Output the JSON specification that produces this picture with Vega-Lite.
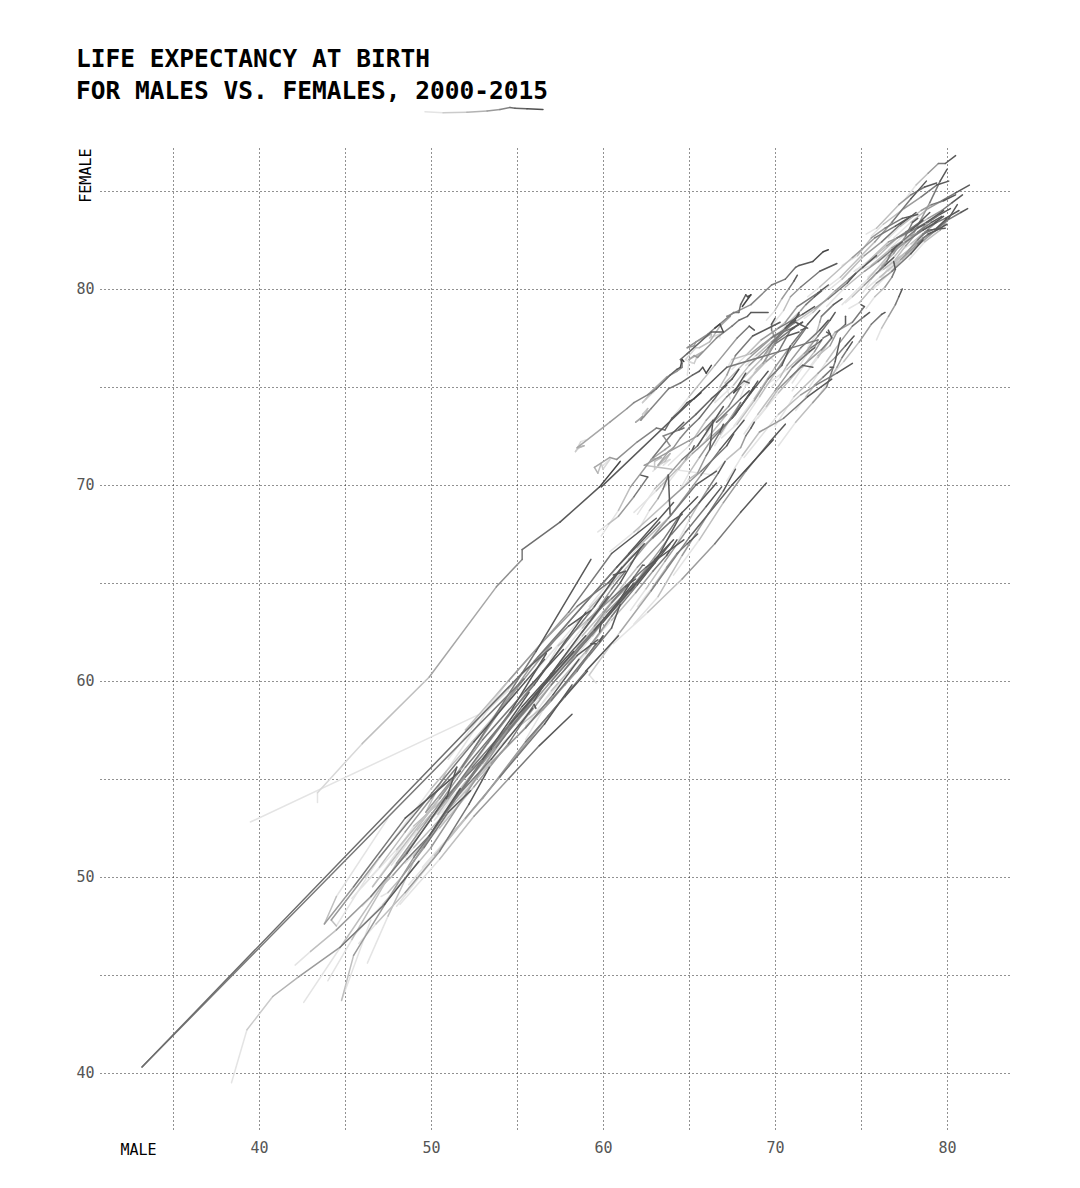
{
"$schema":"https://vega.github.io/schema/vega-lite/v6.json",
"width":910,"height":982,
"autosize":{"type":"none"},
"padding":{"left":100,"top":148,"right":70,"bottom":58},
"background":"white",
"title":{"text":["LIFE EXPECTANCY AT BIRTH","FOR MALES VS. FEMALES, 2000-2015"],"anchor":"start","frame":"group","dx":-24,"offset":2,"font":"DejaVu Sans Mono","fontSize":24.5,"fontWeight":"bold","lineHeight":32,"color":"#000"},
"config":{"view":{"stroke":null},"font":"DejaVu Sans Mono"},
"datasets":{
"key":[
{"c":"key","t":2000,"m":49.65,"f":89.04},{"c":"key","t":2002,"m":50.7,"f":88.99},{"c":"key","t":2004,"m":52.09,"f":89.01},{"c":"key","t":2006,"m":53.26,"f":89.08},{"c":"key","t":2008,"m":54.01,"f":89.15},{"c":"key","t":2010,"m":54.59,"f":89.26},{"c":"key","t":2011,"m":54.88,"f":89.22},{"c":"key","t":2013,"m":55.58,"f":89.19},{"c":"key","t":2015,"m":56.51,"f":89.16}
],
"le":[
{"c":"JPN","t":2000,"m":77.5,"f":84.5},{"c":"JPN","t":2003,"m":78.2,"f":85.3},{"c":"JPN","t":2006,"m":78.9,"f":85.9},{"c":"JPN","t":2009,"m":79.5,"f":86.4},{"c":"JPN","t":2012,"m":79.9,"f":86.4},{"c":"JPN","t":2015,"m":80.5,"f":86.8},
{"c":"CHE","t":2000,"m":76.9,"f":82.6},{"c":"CHE","t":2003,"m":77.9,"f":83.4},{"c":"CHE","t":2006,"m":78.9,"f":84.1},{"c":"CHE","t":2009,"m":79.7,"f":84.5},{"c":"CHE","t":2012,"m":80.5,"f":84.9},{"c":"CHE","t":2015,"m":81.3,"f":85.3},
{"c":"AUS","t":2000,"m":76.6,"f":82.0},{"c":"AUS","t":2003,"m":77.8,"f":83.0},{"c":"AUS","t":2006,"m":78.9,"f":83.6},{"c":"AUS","t":2009,"m":79.7,"f":84.0},{"c":"AUS","t":2012,"m":80.3,"f":84.4},{"c":"AUS","t":2015,"m":80.9,"f":84.8},
{"c":"ISL","t":2000,"m":77.8,"f":81.5},{"c":"ISL","t":2003,"m":78.7,"f":82.4},{"c":"ISL","t":2006,"m":79.6,"f":83.0},{"c":"ISL","t":2009,"m":80.0,"f":83.5},{"c":"ISL","t":2012,"m":80.8,"f":83.9},{"c":"ISL","t":2015,"m":81.2,"f":84.1},
{"c":"SWE","t":2000,"m":77.4,"f":82.0},{"c":"SWE","t":2003,"m":77.9,"f":82.3},{"c":"SWE","t":2006,"m":78.7,"f":82.9},{"c":"SWE","t":2009,"m":79.4,"f":83.4},{"c":"SWE","t":2012,"m":79.9,"f":83.6},{"c":"SWE","t":2015,"m":80.7,"f":84.0},
{"c":"ITA","t":2000,"m":76.6,"f":82.6},{"c":"ITA","t":2003,"m":77.3,"f":83.2},{"c":"ITA","t":2006,"m":78.5,"f":84.0},{"c":"ITA","t":2009,"m":79.1,"f":84.3},{"c":"ITA","t":2012,"m":79.8,"f":84.5},{"c":"ITA","t":2015,"m":80.5,"f":84.8},
{"c":"ESP","t":2000,"m":75.6,"f":82.7},{"c":"ESP","t":2003,"m":76.3,"f":83.3},{"c":"ESP","t":2006,"m":77.5,"f":84.1},{"c":"ESP","t":2009,"m":78.5,"f":84.7},{"c":"ESP","t":2012,"m":79.4,"f":85.3},{"c":"ESP","t":2015,"m":80.1,"f":85.5},
{"c":"FRA","t":2000,"m":75.3,"f":82.8},{"c":"FRA","t":2003,"m":75.9,"f":83.1},{"c":"FRA","t":2006,"m":77.2,"f":84.3},{"c":"FRA","t":2009,"m":77.9,"f":84.8},{"c":"FRA","t":2012,"m":78.7,"f":85.2},{"c":"FRA","t":2015,"m":79.4,"f":85.4},
{"c":"SGP","t":2000,"m":76.0,"f":80.2},{"c":"SGP","t":2003,"m":76.9,"f":81.6},{"c":"SGP","t":2006,"m":78.1,"f":82.9},{"c":"SGP","t":2009,"m":79.0,"f":84.4},{"c":"SGP","t":2012,"m":79.6,"f":85.5},{"c":"SGP","t":2015,"m":80.0,"f":86.1},
{"c":"KOR","t":2000,"m":72.3,"f":79.6},{"c":"KOR","t":2003,"m":73.8,"f":80.6},{"c":"KOR","t":2006,"m":75.8,"f":82.4},{"c":"KOR","t":2009,"m":76.8,"f":83.4},{"c":"KOR","t":2012,"m":77.9,"f":84.6},{"c":"KOR","t":2015,"m":78.8,"f":85.5},
{"c":"CAN","t":2000,"m":76.6,"f":81.9},{"c":"CAN","t":2003,"m":77.4,"f":82.3},{"c":"CAN","t":2006,"m":78.2,"f":82.8},{"c":"CAN","t":2009,"m":78.9,"f":83.4},{"c":"CAN","t":2012,"m":79.6,"f":83.8},{"c":"CAN","t":2015,"m":80.2,"f":84.1},
{"c":"NOR","t":2000,"m":76.0,"f":81.4},{"c":"NOR","t":2003,"m":77.0,"f":82.0},{"c":"NOR","t":2006,"m":77.9,"f":82.7},{"c":"NOR","t":2009,"m":78.6,"f":83.0},{"c":"NOR","t":2012,"m":79.3,"f":83.4},{"c":"NOR","t":2015,"m":79.8,"f":83.7},
{"c":"GBR","t":2000,"m":75.3,"f":80.0},{"c":"GBR","t":2003,"m":76.1,"f":80.6},{"c":"GBR","t":2006,"m":77.3,"f":81.5},{"c":"GBR","t":2009,"m":78.3,"f":82.3},{"c":"GBR","t":2012,"m":78.9,"f":82.8},{"c":"GBR","t":2015,"m":79.4,"f":83.0},
{"c":"DEU","t":2000,"m":75.0,"f":81.0},{"c":"DEU","t":2003,"m":75.6,"f":81.2},{"c":"DEU","t":2006,"m":76.8,"f":82.1},{"c":"DEU","t":2009,"m":77.5,"f":82.5},{"c":"DEU","t":2012,"m":78.3,"f":83.1},{"c":"DEU","t":2015,"m":78.7,"f":83.3},
{"c":"NLD","t":2000,"m":75.6,"f":80.7},{"c":"NLD","t":2003,"m":76.3,"f":81.0},{"c":"NLD","t":2006,"m":77.8,"f":82.0},{"c":"NLD","t":2009,"m":78.6,"f":82.8},{"c":"NLD","t":2012,"m":79.4,"f":83.1},{"c":"NLD","t":2015,"m":80.0,"f":83.6},
{"c":"AUT","t":2000,"m":75.2,"f":81.2},{"c":"AUT","t":2003,"m":75.9,"f":81.6},{"c":"AUT","t":2006,"m":77.1,"f":82.6},{"c":"AUT","t":2009,"m":77.6,"f":82.9},{"c":"AUT","t":2012,"m":78.4,"f":83.4},{"c":"AUT","t":2015,"m":79.0,"f":83.9},
{"c":"FIN","t":2000,"m":73.9,"f":81.2},{"c":"FIN","t":2003,"m":74.8,"f":81.7},{"c":"FIN","t":2006,"m":75.6,"f":82.6},{"c":"FIN","t":2009,"m":76.4,"f":83.1},{"c":"FIN","t":2012,"m":77.4,"f":83.6},{"c":"FIN","t":2015,"m":78.3,"f":83.8},
{"c":"ISR","t":2000,"m":76.6,"f":80.9},{"c":"ISR","t":2003,"m":77.4,"f":81.5},{"c":"ISR","t":2006,"m":78.4,"f":82.3},{"c":"ISR","t":2009,"m":79.5,"f":83.1},{"c":"ISR","t":2012,"m":80.1,"f":83.6},{"c":"ISR","t":2015,"m":80.6,"f":84.3},
{"c":"NZL","t":2000,"m":75.9,"f":80.8},{"c":"NZL","t":2003,"m":76.9,"f":81.3},{"c":"NZL","t":2006,"m":77.9,"f":82.1},{"c":"NZL","t":2009,"m":78.6,"f":82.6},{"c":"NZL","t":2012,"m":79.4,"f":83.0},{"c":"NZL","t":2015,"m":80.0,"f":83.3},
{"c":"IRL","t":2000,"m":73.9,"f":79.2},{"c":"IRL","t":2003,"m":75.4,"f":80.5},{"c":"IRL","t":2006,"m":76.6,"f":81.7},{"c":"IRL","t":2009,"m":77.6,"f":82.4},{"c":"IRL","t":2012,"m":78.6,"f":83.0},{"c":"IRL","t":2015,"m":79.4,"f":83.4},
{"c":"GRC","t":2000,"m":75.4,"f":80.6},{"c":"GRC","t":2003,"m":76.2,"f":81.2},{"c":"GRC","t":2006,"m":76.9,"f":81.8},{"c":"GRC","t":2009,"m":77.6,"f":82.7},{"c":"GRC","t":2012,"m":78.0,"f":83.4},{"c":"GRC","t":2015,"m":78.3,"f":83.6},
{"c":"PRT","t":2000,"m":73.2,"f":80.0},{"c":"PRT","t":2003,"m":73.9,"f":80.5},{"c":"PRT","t":2006,"m":75.2,"f":81.7},{"c":"PRT","t":2009,"m":76.2,"f":82.4},{"c":"PRT","t":2012,"m":77.3,"f":83.3},{"c":"PRT","t":2015,"m":78.2,"f":83.9},
{"c":"BEL","t":2000,"m":74.6,"f":80.9},{"c":"BEL","t":2003,"m":75.3,"f":81.3},{"c":"BEL","t":2006,"m":76.5,"f":82.2},{"c":"BEL","t":2009,"m":77.1,"f":82.6},{"c":"BEL","t":2012,"m":77.9,"f":83.0},{"c":"BEL","t":2015,"m":78.6,"f":83.5},
{"c":"DNK","t":2000,"m":74.3,"f":79.0},{"c":"DNK","t":2003,"m":74.9,"f":79.3},{"c":"DNK","t":2006,"m":75.9,"f":80.3},{"c":"DNK","t":2009,"m":76.8,"f":80.9},{"c":"DNK","t":2012,"m":77.9,"f":81.8},{"c":"DNK","t":2015,"m":78.6,"f":82.5},
{"c":"USA","t":2000,"m":74.1,"f":79.3},{"c":"USA","t":2003,"m":74.5,"f":79.6},{"c":"USA","t":2006,"m":75.2,"f":80.2},{"c":"USA","t":2009,"m":75.9,"f":80.8},{"c":"USA","t":2012,"m":76.4,"f":81.2},{"c":"USA","t":2015,"m":76.9,"f":81.6},
{"c":"CHL","t":2000,"m":73.0,"f":79.1},{"c":"CHL","t":2003,"m":74.1,"f":80.1},{"c":"CHL","t":2006,"m":75.2,"f":80.9},{"c":"CHL","t":2009,"m":76.0,"f":81.4},{"c":"CHL","t":2012,"m":76.8,"f":82.0},{"c":"CHL","t":2015,"m":77.4,"f":82.4},
{"c":"CRI","t":2000,"m":75.1,"f":79.8},{"c":"CRI","t":2003,"m":75.6,"f":80.5},{"c":"CRI","t":2006,"m":76.1,"f":81.0},{"c":"CRI","t":2009,"m":76.5,"f":81.4},{"c":"CRI","t":2012,"m":76.8,"f":81.9},{"c":"CRI","t":2015,"m":77.1,"f":82.2},
{"c":"CUB","t":2000,"m":75.3,"f":79.0},{"c":"CUB","t":2003,"m":75.8,"f":79.6},{"c":"CUB","t":2006,"m":76.4,"f":80.1},{"c":"CUB","t":2009,"m":76.8,"f":80.6},{"c":"CUB","t":2012,"m":77.0,"f":81.0},{"c":"CUB","t":2015,"m":76.9,"f":81.4},
{"c":"SVN","t":2000,"m":71.9,"f":79.6},{"c":"SVN","t":2003,"m":72.6,"f":80.1},{"c":"SVN","t":2006,"m":74.5,"f":81.6},{"c":"SVN","t":2009,"m":75.8,"f":82.6},{"c":"SVN","t":2012,"m":77.0,"f":83.2},{"c":"SVN","t":2015,"m":77.9,"f":83.7},
{"c":"CZE","t":2000,"m":71.7,"f":78.5},{"c":"CZE","t":2003,"m":72.2,"f":78.8},{"c":"CZE","t":2006,"m":73.5,"f":79.9},{"c":"CZE","t":2009,"m":74.3,"f":80.5},{"c":"CZE","t":2012,"m":75.1,"f":81.1},{"c":"CZE","t":2015,"m":75.9,"f":81.7},
{"c":"LUX","t":2000,"m":74.6,"f":80.9},{"c":"LUX","t":2003,"m":75.4,"f":81.4},{"c":"LUX","t":2006,"m":76.6,"f":82.4},{"c":"LUX","t":2009,"m":77.6,"f":82.8},{"c":"LUX","t":2012,"m":78.8,"f":83.4},{"c":"LUX","t":2015,"m":79.8,"f":84.0},
{"c":"MLT","t":2000,"m":76.2,"f":80.6},{"c":"MLT","t":2003,"m":77.0,"f":81.5},{"c":"MLT","t":2006,"m":77.6,"f":82.2},{"c":"MLT","t":2009,"m":78.3,"f":82.9},{"c":"MLT","t":2012,"m":79.1,"f":83.4},{"c":"MLT","t":2015,"m":79.7,"f":83.7},
{"c":"CYP","t":2000,"m":75.7,"f":80.0},{"c":"CYP","t":2003,"m":76.8,"f":80.9},{"c":"CYP","t":2006,"m":77.6,"f":81.8},{"c":"CYP","t":2009,"m":78.3,"f":82.5},{"c":"CYP","t":2012,"m":78.9,"f":83.0},{"c":"CYP","t":2015,"m":79.9,"f":83.1},
{"c":"QAT","t":2000,"m":75.9,"f":77.4},{"c":"QAT","t":2003,"m":76.2,"f":78.0},{"c":"QAT","t":2006,"m":76.6,"f":78.6},{"c":"QAT","t":2009,"m":77.0,"f":79.2},{"c":"QAT","t":2012,"m":77.2,"f":79.6},{"c":"QAT","t":2015,"m":77.4,"f":80.0},
{"c":"ARE","t":2000,"m":73.3,"f":75.6},{"c":"ARE","t":2003,"m":74.0,"f":76.3},{"c":"ARE","t":2006,"m":74.9,"f":77.3},{"c":"ARE","t":2009,"m":75.6,"f":78.2},{"c":"ARE","t":2012,"m":76.2,"f":78.7},{"c":"ARE","t":2015,"m":76.4,"f":78.8},
{"c":"KWT","t":2000,"m":72.5,"f":74.5},{"c":"KWT","t":2003,"m":73.2,"f":75.4},{"c":"KWT","t":2006,"m":73.6,"f":76.0},{"c":"KWT","t":2009,"m":73.9,"f":76.5},{"c":"KWT","t":2012,"m":74.2,"f":76.9},{"c":"KWT","t":2015,"m":74.5,"f":77.3},
{"c":"LBN","t":2000,"m":72.0,"f":75.0},{"c":"LBN","t":2003,"m":73.0,"f":76.3},{"c":"LBN","t":2006,"m":73.8,"f":77.3},{"c":"LBN","t":2009,"m":74.5,"f":78.1},{"c":"LBN","t":2012,"m":75.2,"f":78.6},{"c":"LBN","t":2015,"m":75.5,"f":78.8},
{"c":"HRV","t":2000,"m":69.9,"f":77.6},{"c":"HRV","t":2003,"m":71.0,"f":78.2},{"c":"HRV","t":2006,"m":72.3,"f":79.0},{"c":"HRV","t":2009,"m":73.1,"f":79.5},{"c":"HRV","t":2012,"m":74.2,"f":80.3},{"c":"HRV","t":2015,"m":74.7,"f":80.8},
{"c":"SVK","t":2000,"m":69.2,"f":77.4},{"c":"SVK","t":2003,"m":69.9,"f":77.8},{"c":"SVK","t":2006,"m":70.6,"f":78.3},{"c":"SVK","t":2009,"m":71.3,"f":79.1},{"c":"SVK","t":2012,"m":72.5,"f":79.8},{"c":"SVK","t":2015,"m":73.1,"f":80.2},
{"c":"POL","t":2000,"m":69.7,"f":78.0},{"c":"POL","t":2003,"m":70.5,"f":78.9},{"c":"POL","t":2006,"m":70.9,"f":79.6},{"c":"POL","t":2009,"m":71.5,"f":80.1},{"c":"POL","t":2012,"m":72.6,"f":80.9},{"c":"POL","t":2015,"m":73.6,"f":81.3},
{"c":"HUN","t":2000,"m":67.5,"f":75.9},{"c":"HUN","t":2003,"m":68.3,"f":76.6},{"c":"HUN","t":2006,"m":69.2,"f":77.4},{"c":"HUN","t":2009,"m":70.2,"f":78.0},{"c":"HUN","t":2012,"m":71.6,"f":78.7},{"c":"HUN","t":2015,"m":72.3,"f":79.1},
{"c":"EST","t":2000,"m":65.2,"f":76.2},{"c":"EST","t":2003,"m":65.6,"f":77.0},{"c":"EST","t":2006,"m":67.4,"f":78.6},{"c":"EST","t":2009,"m":69.8,"f":80.2},{"c":"EST","t":2012,"m":71.4,"f":81.2},{"c":"EST","t":2015,"m":73.1,"f":82.0},
{"c":"LVA","t":2000,"m":64.9,"f":75.6},{"c":"LVA","t":2003,"m":65.5,"f":76.6},{"c":"LVA","t":2006,"m":65.3,"f":76.6},{"c":"LVA","t":2009,"m":67.5,"f":78.1},{"c":"LVA","t":2012,"m":68.6,"f":78.8},{"c":"LVA","t":2015,"m":69.6,"f":78.8},
{"c":"LTU","t":2000,"m":66.8,"f":77.5},{"c":"LTU","t":2003,"m":66.3,"f":77.6},{"c":"LTU","t":2006,"m":65.3,"f":77.1},{"c":"LTU","t":2009,"m":67.6,"f":78.8},{"c":"LTU","t":2012,"m":68.3,"f":79.7},{"c":"LTU","t":2015,"m":68.1,"f":79.1},
{"c":"RUS","t":2000,"m":59.0,"f":72.3},{"c":"RUS","t":2003,"m":58.6,"f":71.9},{"c":"RUS","t":2006,"m":60.4,"f":73.2},{"c":"RUS","t":2009,"m":62.8,"f":74.7},{"c":"RUS","t":2012,"m":64.3,"f":75.9},{"c":"RUS","t":2015,"m":64.7,"f":76.3},
{"c":"UKR","t":2000,"m":62.2,"f":73.4},{"c":"UKR","t":2003,"m":62.6,"f":73.9},{"c":"UKR","t":2006,"m":62.3,"f":73.5},{"c":"UKR","t":2009,"m":63.8,"f":74.9},{"c":"UKR","t":2012,"m":65.6,"f":75.8},{"c":"UKR","t":2015,"m":66.3,"f":76.1},
{"c":"BLR","t":2000,"m":62.9,"f":74.7},{"c":"BLR","t":2003,"m":62.5,"f":74.4},{"c":"BLR","t":2006,"m":63.7,"f":75.5},{"c":"BLR","t":2009,"m":64.6,"f":76.2},{"c":"BLR","t":2012,"m":66.3,"f":77.8},{"c":"BLR","t":2015,"m":66.5,"f":78.0},
{"c":"KAZ","t":2000,"m":60.0,"f":71.0},{"c":"KAZ","t":2003,"m":59.9,"f":71.1},{"c":"KAZ","t":2006,"m":60.4,"f":71.4},{"c":"KAZ","t":2009,"m":63.1,"f":72.9},{"c":"KAZ","t":2012,"m":64.5,"f":73.8},{"c":"KAZ","t":2015,"m":65.7,"f":74.7},
{"c":"MDA","t":2000,"m":63.5,"f":71.0},{"c":"MDA","t":2003,"m":63.6,"f":71.2},{"c":"MDA","t":2006,"m":63.8,"f":71.7},{"c":"MDA","t":2009,"m":65.0,"f":72.9},{"c":"MDA","t":2012,"m":67.0,"f":75.0},{"c":"MDA","t":2015,"m":67.9,"f":75.9},
{"c":"ARM","t":2000,"m":68.0,"f":74.5},{"c":"ARM","t":2003,"m":68.4,"f":75.3},{"c":"ARM","t":2006,"m":69.5,"f":76.3},{"c":"ARM","t":2009,"m":70.2,"f":76.8},{"c":"ARM","t":2012,"m":70.9,"f":77.9},{"c":"ARM","t":2015,"m":71.6,"f":78.3},
{"c":"KGZ","t":2000,"m":62.9,"f":70.7},{"c":"KGZ","t":2003,"m":63.0,"f":71.2},{"c":"KGZ","t":2006,"m":63.6,"f":71.8},{"c":"KGZ","t":2009,"m":64.7,"f":72.9},{"c":"KGZ","t":2012,"m":66.3,"f":74.4},{"c":"KGZ","t":2015,"m":67.2,"f":75.1},
{"c":"MNG","t":2000,"m":59.9,"f":67.4},{"c":"MNG","t":2003,"m":60.9,"f":68.7},{"c":"MNG","t":2006,"m":61.6,"f":69.9},{"c":"MNG","t":2009,"m":62.9,"f":71.4},{"c":"MNG","t":2012,"m":64.0,"f":72.6},{"c":"MNG","t":2015,"m":64.7,"f":73.2},
{"c":"CHN","t":2000,"m":70.0,"f":73.0},{"c":"CHN","t":2003,"m":71.1,"f":74.5},{"c":"CHN","t":2006,"m":72.5,"f":75.7},{"c":"CHN","t":2009,"m":73.5,"f":76.5},{"c":"CHN","t":2012,"m":74.1,"f":77.1},{"c":"CHN","t":2015,"m":74.6,"f":77.6},
{"c":"MEX","t":2000,"m":71.9,"f":77.0},{"c":"MEX","t":2003,"m":72.4,"f":77.7},{"c":"MEX","t":2006,"m":72.6,"f":78.3},{"c":"MEX","t":2009,"m":72.7,"f":78.6},{"c":"MEX","t":2012,"m":73.4,"f":79.2},{"c":"MEX","t":2015,"m":73.9,"f":79.5},
{"c":"BRA","t":2000,"m":66.5,"f":74.2},{"c":"BRA","t":2003,"m":67.6,"f":75.1},{"c":"BRA","t":2006,"m":68.5,"f":76.1},{"c":"BRA","t":2009,"m":69.6,"f":77.0},{"c":"BRA","t":2012,"m":70.6,"f":78.0},{"c":"BRA","t":2015,"m":71.4,"f":78.7},
{"c":"ARG","t":2000,"m":70.2,"f":77.7},{"c":"ARG","t":2003,"m":70.8,"f":78.3},{"c":"ARG","t":2006,"m":71.5,"f":78.9},{"c":"ARG","t":2009,"m":71.8,"f":79.2},{"c":"ARG","t":2012,"m":72.3,"f":79.6},{"c":"ARG","t":2015,"m":72.7,"f":79.9},
{"c":"COL","t":2000,"m":68.3,"f":76.1},{"c":"COL","t":2003,"m":68.9,"f":76.6},{"c":"COL","t":2006,"m":69.8,"f":77.3},{"c":"COL","t":2009,"m":70.3,"f":77.7},{"c":"COL","t":2012,"m":70.7,"f":78.1},{"c":"COL","t":2015,"m":71.2,"f":78.4},
{"c":"THA","t":2000,"m":67.4,"f":74.4},{"c":"THA","t":2003,"m":67.1,"f":75.2},{"c":"THA","t":2006,"m":68.4,"f":76.4},{"c":"THA","t":2009,"m":69.8,"f":77.5},{"c":"THA","t":2012,"m":71.2,"f":78.3},{"c":"THA","t":2015,"m":71.9,"f":78.0},
{"c":"VNM","t":2000,"m":69.5,"f":78.4},{"c":"VNM","t":2003,"m":70.0,"f":78.9},{"c":"VNM","t":2006,"m":70.4,"f":79.5},{"c":"VNM","t":2009,"m":70.8,"f":80.0},{"c":"VNM","t":2012,"m":71.1,"f":80.4},{"c":"VNM","t":2015,"m":71.3,"f":80.7},
{"c":"LKA","t":2000,"m":67.3,"f":76.1},{"c":"LKA","t":2003,"m":67.5,"f":76.4},{"c":"LKA","t":2006,"m":68.6,"f":76.7},{"c":"LKA","t":2009,"m":69.9,"f":77.6},{"c":"LKA","t":2012,"m":71.0,"f":78.0},{"c":"LKA","t":2015,"m":71.6,"f":78.3},
{"c":"TUR","t":2000,"m":67.6,"f":73.0},{"c":"TUR","t":2003,"m":68.8,"f":74.4},{"c":"TUR","t":2006,"m":70.0,"f":76.0},{"c":"TUR","t":2009,"m":71.0,"f":77.2},{"c":"TUR","t":2012,"m":71.9,"f":78.2},{"c":"TUR","t":2015,"m":72.6,"f":78.9},
{"c":"IRN","t":2000,"m":68.2,"f":71.4},{"c":"IRN","t":2003,"m":70.2,"f":73.6},{"c":"IRN","t":2006,"m":71.5,"f":74.6},{"c":"IRN","t":2009,"m":72.4,"f":75.1},{"c":"IRN","t":2012,"m":73.6,"f":75.7},{"c":"IRN","t":2015,"m":74.5,"f":76.2},
{"c":"MYS","t":2000,"m":70.7,"f":75.7},{"c":"MYS","t":2003,"m":71.2,"f":76.2},{"c":"MYS","t":2006,"m":71.7,"f":76.7},{"c":"MYS","t":2009,"m":72.1,"f":77.0},{"c":"MYS","t":2012,"m":72.6,"f":77.3},{"c":"MYS","t":2015,"m":72.7,"f":77.4},
{"c":"PER","t":2000,"m":69.0,"f":73.4},{"c":"PER","t":2003,"m":70.2,"f":74.7},{"c":"PER","t":2006,"m":71.5,"f":76.0},{"c":"PER","t":2009,"m":72.7,"f":76.9},{"c":"PER","t":2012,"m":73.3,"f":77.5},{"c":"PER","t":2015,"m":73.1,"f":77.9},
{"c":"ECU","t":2000,"m":69.5,"f":75.1},{"c":"ECU","t":2003,"m":70.7,"f":75.9},{"c":"ECU","t":2006,"m":71.8,"f":76.8},{"c":"ECU","t":2009,"m":72.5,"f":77.6},{"c":"ECU","t":2012,"m":73.2,"f":78.4},{"c":"ECU","t":2015,"m":73.5,"f":78.8},
{"c":"ROU","t":2000,"m":67.8,"f":74.9},{"c":"ROU","t":2003,"m":68.2,"f":75.5},{"c":"ROU","t":2006,"m":69.2,"f":76.4},{"c":"ROU","t":2009,"m":69.9,"f":77.3},{"c":"ROU","t":2012,"m":71.1,"f":78.3},{"c":"ROU","t":2015,"m":71.4,"f":78.8},
{"c":"BGR","t":2000,"m":68.4,"f":75.1},{"c":"BGR","t":2003,"m":68.9,"f":75.9},{"c":"BGR","t":2006,"m":69.4,"f":76.3},{"c":"BGR","t":2009,"m":70.0,"f":77.3},{"c":"BGR","t":2012,"m":70.9,"f":77.9},{"c":"BGR","t":2015,"m":71.1,"f":78.0},
{"c":"SRB","t":2000,"m":69.8,"f":75.0},{"c":"SRB","t":2003,"m":70.3,"f":75.5},{"c":"SRB","t":2006,"m":70.7,"f":76.1},{"c":"SRB","t":2009,"m":71.5,"f":77.0},{"c":"SRB","t":2012,"m":72.6,"f":77.9},{"c":"SRB","t":2015,"m":73.1,"f":78.4},
{"c":"TUN","t":2000,"m":71.0,"f":75.2},{"c":"TUN","t":2003,"m":71.6,"f":76.0},{"c":"TUN","t":2006,"m":72.3,"f":76.8},{"c":"TUN","t":2009,"m":72.8,"f":77.5},{"c":"TUN","t":2012,"m":73.2,"f":77.7},{"c":"TUN","t":2015,"m":73.0,"f":77.8},
{"c":"DZA","t":2000,"m":70.2,"f":72.0},{"c":"DZA","t":2003,"m":71.2,"f":73.2},{"c":"DZA","t":2006,"m":72.2,"f":74.2},{"c":"DZA","t":2009,"m":73.0,"f":75.0},{"c":"DZA","t":2012,"m":73.5,"f":76.3},{"c":"DZA","t":2015,"m":73.8,"f":77.5},
{"c":"MAR","t":2000,"m":67.2,"f":70.2},{"c":"MAR","t":2003,"m":68.1,"f":71.5},{"c":"MAR","t":2006,"m":69.1,"f":72.7},{"c":"MAR","t":2009,"m":70.5,"f":73.4},{"c":"MAR","t":2012,"m":71.9,"f":74.5},{"c":"MAR","t":2015,"m":73.3,"f":75.4},
{"c":"EGY","t":2000,"m":66.3,"f":70.5},{"c":"EGY","t":2003,"m":67.2,"f":71.3},{"c":"EGY","t":2006,"m":68.0,"f":71.9},{"c":"EGY","t":2009,"m":68.3,"f":72.5},{"c":"EGY","t":2012,"m":68.6,"f":72.9},{"c":"EGY","t":2015,"m":68.8,"f":73.2},
{"c":"IDN","t":2000,"m":64.4,"f":67.2},{"c":"IDN","t":2003,"m":65.0,"f":68.2},{"c":"IDN","t":2006,"m":65.6,"f":69.1},{"c":"IDN","t":2009,"m":66.1,"f":69.8},{"c":"IDN","t":2012,"m":66.7,"f":70.6},{"c":"IDN","t":2015,"m":67.1,"f":71.2},
{"c":"PHL","t":2000,"m":63.6,"f":69.9},{"c":"PHL","t":2003,"m":64.4,"f":70.8},{"c":"PHL","t":2006,"m":64.8,"f":71.3},{"c":"PHL","t":2009,"m":65.0,"f":71.6},{"c":"PHL","t":2012,"m":65.2,"f":71.8},{"c":"PHL","t":2015,"m":65.3,"f":72.0},
{"c":"BGD","t":2000,"m":64.1,"f":65.4},{"c":"BGD","t":2003,"m":65.6,"f":67.2},{"c":"BGD","t":2006,"m":67.0,"f":69.1},{"c":"BGD","t":2009,"m":68.3,"f":70.7},{"c":"BGD","t":2012,"m":69.7,"f":72.2},{"c":"BGD","t":2015,"m":70.6,"f":73.1},
{"c":"IND","t":2000,"m":61.6,"f":63.6},{"c":"IND","t":2003,"m":62.5,"f":64.7},{"c":"IND","t":2006,"m":63.6,"f":66.1},{"c":"IND","t":2009,"m":64.8,"f":67.6},{"c":"IND","t":2012,"m":66.0,"f":68.9},{"c":"IND","t":2015,"m":66.9,"f":69.9},
{"c":"PAK","t":2000,"m":62.0,"f":63.8},{"c":"PAK","t":2003,"m":62.9,"f":64.8},{"c":"PAK","t":2006,"m":63.7,"f":65.8},{"c":"PAK","t":2009,"m":64.3,"f":66.5},{"c":"PAK","t":2012,"m":64.9,"f":67.0},{"c":"PAK","t":2015,"m":65.5,"f":67.5},
{"c":"NPL","t":2000,"m":61.8,"f":62.9},{"c":"NPL","t":2003,"m":63.2,"f":64.3},{"c":"NPL","t":2006,"m":64.6,"f":66.4},{"c":"NPL","t":2009,"m":66.1,"f":68.5},{"c":"NPL","t":2012,"m":67.0,"f":69.7},{"c":"NPL","t":2015,"m":67.7,"f":70.8},
{"c":"MMR","t":2000,"m":59.2,"f":63.8},{"c":"MMR","t":2003,"m":60.3,"f":65.0},{"c":"MMR","t":2006,"m":61.5,"f":66.2},{"c":"MMR","t":2009,"m":62.9,"f":67.3},{"c":"MMR","t":2012,"m":63.9,"f":68.1},{"c":"MMR","t":2015,"m":64.6,"f":68.5},
{"c":"KHM","t":2000,"m":56.0,"f":60.4},{"c":"KHM","t":2003,"m":58.5,"f":63.0},{"c":"KHM","t":2006,"m":61.6,"f":66.0},{"c":"KHM","t":2009,"m":63.8,"f":68.3},{"c":"KHM","t":2012,"m":65.4,"f":70.0},{"c":"KHM","t":2015,"m":66.6,"f":70.7},
{"c":"LAO","t":2000,"m":58.2,"f":61.0},{"c":"LAO","t":2003,"m":59.4,"f":62.3},{"c":"LAO","t":2006,"m":60.5,"f":63.6},{"c":"LAO","t":2009,"m":61.8,"f":64.9},{"c":"LAO","t":2012,"m":63.0,"f":66.2},{"c":"LAO","t":2015,"m":64.1,"f":67.2},
{"c":"GTM","t":2000,"m":63.8,"f":71.0},{"c":"GTM","t":2003,"m":65.0,"f":72.0},{"c":"GTM","t":2006,"m":66.0,"f":73.3},{"c":"GTM","t":2009,"m":67.2,"f":74.5},{"c":"GTM","t":2012,"m":68.2,"f":75.3},{"c":"GTM","t":2015,"m":68.5,"f":75.2},
{"c":"BOL","t":2000,"m":60.0,"f":64.4},{"c":"BOL","t":2003,"m":62.0,"f":66.8},{"c":"BOL","t":2006,"m":63.9,"f":68.4},{"c":"BOL","t":2009,"m":65.7,"f":70.5},{"c":"BOL","t":2012,"m":66.8,"f":71.8},{"c":"BOL","t":2015,"m":68.2,"f":73.3},
{"c":"IRQ","t":2000,"m":66.5,"f":70.5},{"c":"IRQ","t":2003,"m":64.0,"f":70.8},{"c":"IRQ","t":2006,"m":62.4,"f":71.0},{"c":"IRQ","t":2009,"m":65.5,"f":72.5},{"c":"IRQ","t":2012,"m":66.4,"f":73.3},{"c":"IRQ","t":2015,"m":66.2,"f":71.8},
{"c":"SYR","t":2000,"m":71.3,"f":75.9},{"c":"SYR","t":2003,"m":71.8,"f":76.6},{"c":"SYR","t":2006,"m":72.3,"f":77.0},{"c":"SYR","t":2009,"m":72.5,"f":77.4},{"c":"SYR","t":2012,"m":67.2,"f":76.0},{"c":"SYR","t":2015,"m":59.9,"f":69.9},
{"c":"YEM","t":2000,"m":59.0,"f":61.6},{"c":"YEM","t":2003,"m":60.5,"f":63.1},{"c":"YEM","t":2006,"m":61.9,"f":64.5},{"c":"YEM","t":2009,"m":62.9,"f":65.6},{"c":"YEM","t":2012,"m":63.7,"f":66.4},{"c":"YEM","t":2015,"m":64.3,"f":67.2},
{"c":"AFG","t":2000,"m":53.5,"f":56.2},{"c":"AFG","t":2003,"m":55.0,"f":57.6},{"c":"AFG","t":2006,"m":56.7,"f":58.8},{"c":"AFG","t":2009,"m":58.5,"f":60.5},{"c":"AFG","t":2012,"m":59.6,"f":61.9},{"c":"AFG","t":2015,"m":59.3,"f":61.9},
{"c":"HTI","t":2000,"m":53.0,"f":57.5},{"c":"HTI","t":2004,"m":54.0,"f":58.6},{"c":"HTI","t":2008,"m":55.0,"f":59.7},{"c":"HTI","t":2009,"m":55.4,"f":60.1},{"c":"HTI","t":2010,"m":33.2,"f":40.3},{"c":"HTI","t":2011,"m":55.3,"f":60.4},{"c":"HTI","t":2015,"m":57.0,"f":61.7},
{"c":"PNG","t":2000,"m":57.8,"f":61.6},{"c":"PNG","t":2003,"m":58.8,"f":62.7},{"c":"PNG","t":2006,"m":59.8,"f":63.8},{"c":"PNG","t":2009,"m":60.5,"f":64.7},{"c":"PNG","t":2012,"m":61.3,"f":65.6},{"c":"PNG","t":2015,"m":60.6,"f":65.4},
{"c":"TLS","t":2000,"m":56.5,"f":58.9},{"c":"TLS","t":2003,"m":59.0,"f":61.4},{"c":"TLS","t":2006,"m":61.7,"f":64.8},{"c":"TLS","t":2009,"m":64.0,"f":67.5},{"c":"TLS","t":2012,"m":65.6,"f":69.1},{"c":"TLS","t":2015,"m":66.6,"f":70.1},
{"c":"TKM","t":2000,"m":59.7,"f":67.6},{"c":"TKM","t":2003,"m":60.3,"f":68.0},{"c":"TKM","t":2006,"m":60.9,"f":68.4},{"c":"TKM","t":2009,"m":61.8,"f":69.4},{"c":"TKM","t":2012,"m":62.6,"f":70.4},{"c":"TKM","t":2015,"m":62.2,"f":70.5},
{"c":"UZB","t":2000,"m":64.5,"f":69.8},{"c":"UZB","t":2003,"m":65.0,"f":70.6},{"c":"UZB","t":2006,"m":65.6,"f":71.4},{"c":"UZB","t":2009,"m":66.3,"f":72.3},{"c":"UZB","t":2012,"m":67.7,"f":73.6},{"c":"UZB","t":2015,"m":69.0,"f":75.3},
{"c":"TJK","t":2000,"m":60.4,"f":66.6},{"c":"TJK","t":2003,"m":61.8,"f":67.6},{"c":"TJK","t":2006,"m":63.8,"f":69.2},{"c":"TJK","t":2009,"m":65.7,"f":70.7},{"c":"TJK","t":2012,"m":67.2,"f":72.0},{"c":"TJK","t":2015,"m":67.6,"f":72.6},
{"c":"AZE","t":2000,"m":61.8,"f":68.6},{"c":"AZE","t":2003,"m":63.1,"f":69.7},{"c":"AZE","t":2006,"m":65.2,"f":71.6},{"c":"AZE","t":2009,"m":67.5,"f":73.4},{"c":"AZE","t":2012,"m":68.6,"f":74.7},{"c":"AZE","t":2015,"m":69.6,"f":75.8},
{"c":"GEO","t":2000,"m":66.5,"f":74.3},{"c":"GEO","t":2003,"m":66.8,"f":75.0},{"c":"GEO","t":2006,"m":67.2,"f":75.6},{"c":"GEO","t":2009,"m":67.7,"f":76.6},{"c":"GEO","t":2012,"m":68.7,"f":77.6},{"c":"GEO","t":2015,"m":70.3,"f":78.3},
{"c":"SLV","t":2000,"m":64.1,"f":73.5},{"c":"SLV","t":2003,"m":65.0,"f":74.5},{"c":"SLV","t":2006,"m":66.5,"f":76.1},{"c":"SLV","t":2009,"m":67.8,"f":77.5},{"c":"SLV","t":2012,"m":68.5,"f":78.1},{"c":"SLV","t":2015,"m":68.8,"f":77.9},
{"c":"DOM","t":2000,"m":66.9,"f":72.4},{"c":"DOM","t":2003,"m":67.8,"f":73.1},{"c":"DOM","t":2006,"m":68.8,"f":74.3},{"c":"DOM","t":2009,"m":69.6,"f":75.4},{"c":"DOM","t":2012,"m":70.4,"f":76.1},{"c":"DOM","t":2015,"m":70.9,"f":77.1},
{"c":"VEN","t":2000,"m":70.0,"f":76.3},{"c":"VEN","t":2003,"m":69.5,"f":76.7},{"c":"VEN","t":2006,"m":70.1,"f":77.3},{"c":"VEN","t":2009,"m":69.8,"f":77.9},{"c":"VEN","t":2012,"m":69.8,"f":78.2},{"c":"VEN","t":2015,"m":70.0,"f":78.5},
{"c":"PRK","t":2000,"m":62.0,"f":68.5},{"c":"PRK","t":2003,"m":63.0,"f":69.8},{"c":"PRK","t":2006,"m":63.8,"f":70.5},{"c":"PRK","t":2009,"m":64.6,"f":71.3},{"c":"PRK","t":2012,"m":65.5,"f":72.0},{"c":"PRK","t":2015,"m":67.0,"f":74.0},
{"c":"GUY","t":2000,"m":62.0,"f":67.6},{"c":"GUY","t":2003,"m":62.7,"f":68.7},{"c":"GUY","t":2006,"m":63.2,"f":69.3},{"c":"GUY","t":2009,"m":63.5,"f":69.8},{"c":"GUY","t":2012,"m":63.8,"f":70.5},{"c":"GUY","t":2015,"m":63.9,"f":68.5},
{"c":"HND","t":2000,"m":68.2,"f":72.6},{"c":"HND","t":2003,"m":69.0,"f":73.6},{"c":"HND","t":2006,"m":70.0,"f":74.8},{"c":"HND","t":2009,"m":71.0,"f":76.0},{"c":"HND","t":2012,"m":72.0,"f":76.8},{"c":"HND","t":2015,"m":72.3,"f":77.0},
{"c":"NIC","t":2000,"m":68.1,"f":73.2},{"c":"NIC","t":2003,"m":69.1,"f":74.5},{"c":"NIC","t":2006,"m":70.0,"f":75.7},{"c":"NIC","t":2009,"m":70.9,"f":76.9},{"c":"NIC","t":2012,"m":71.8,"f":78.0},{"c":"NIC","t":2015,"m":71.5,"f":77.9},
{"c":"PRY","t":2000,"m":68.7,"f":73.1},{"c":"PRY","t":2003,"m":69.5,"f":74.0},{"c":"PRY","t":2006,"m":70.2,"f":74.9},{"c":"PRY","t":2009,"m":70.9,"f":75.5},{"c":"PRY","t":2012,"m":71.6,"f":76.1},{"c":"PRY","t":2015,"m":72.2,"f":76.0},
{"c":"JAM","t":2000,"m":72.0,"f":76.0},{"c":"JAM","t":2003,"m":72.5,"f":76.6},{"c":"JAM","t":2006,"m":73.2,"f":77.1},{"c":"JAM","t":2009,"m":73.6,"f":77.8},{"c":"JAM","t":2012,"m":74.1,"f":78.2},{"c":"JAM","t":2015,"m":74.1,"f":78.6},
{"c":"SAU","t":2000,"m":71.2,"f":73.8},{"c":"SAU","t":2003,"m":71.8,"f":74.5},{"c":"SAU","t":2006,"m":72.3,"f":75.1},{"c":"SAU","t":2009,"m":72.8,"f":75.5},{"c":"SAU","t":2012,"m":73.4,"f":76.0},{"c":"SAU","t":2015,"m":73.2,"f":76.0},
{"c":"OMN","t":2000,"m":71.0,"f":74.8},{"c":"OMN","t":2003,"m":72.5,"f":76.5},{"c":"OMN","t":2006,"m":73.5,"f":77.8},{"c":"OMN","t":2009,"m":74.5,"f":78.3},{"c":"OMN","t":2012,"m":75.2,"f":79.1},{"c":"OMN","t":2015,"m":75.0,"f":79.2},
{"c":"MUS","t":2000,"m":68.0,"f":75.0},{"c":"MUS","t":2003,"m":68.8,"f":75.7},{"c":"MUS","t":2006,"m":69.3,"f":76.2},{"c":"MUS","t":2009,"m":70.0,"f":77.2},{"c":"MUS","t":2012,"m":70.7,"f":77.6},{"c":"MUS","t":2015,"m":71.4,"f":77.8},
{"c":"FJI","t":2000,"m":64.6,"f":69.8},{"c":"FJI","t":2003,"m":65.0,"f":70.3},{"c":"FJI","t":2006,"m":65.5,"f":70.6},{"c":"FJI","t":2009,"m":66.0,"f":71.5},{"c":"FJI","t":2012,"m":66.8,"f":72.7},{"c":"FJI","t":2015,"m":67.0,"f":73.1},
{"c":"BTN","t":2000,"m":60.6,"f":61.9},{"c":"BTN","t":2003,"m":62.6,"f":63.5},{"c":"BTN","t":2006,"m":64.6,"f":65.2},{"c":"BTN","t":2009,"m":66.5,"f":67.0},{"c":"BTN","t":2012,"m":68.0,"f":68.6},{"c":"BTN","t":2015,"m":69.5,"f":70.1},
{"c":"NGA","t":2000,"m":45.8,"f":46.6},{"c":"NGA","t":2003,"m":46.8,"f":47.6},{"c":"NGA","t":2006,"m":48.5,"f":49.2},{"c":"NGA","t":2009,"m":50.5,"f":51.3},{"c":"NGA","t":2012,"m":52.2,"f":53.7},{"c":"NGA","t":2015,"m":53.4,"f":55.6},
{"c":"ETH","t":2000,"m":50.2,"f":52.9},{"c":"ETH","t":2003,"m":52.8,"f":55.6},{"c":"ETH","t":2006,"m":55.9,"f":59.0},{"c":"ETH","t":2009,"m":58.8,"f":62.5},{"c":"ETH","t":2012,"m":61.0,"f":65.0},{"c":"ETH","t":2015,"m":62.2,"f":66.8},
{"c":"KEN","t":2000,"m":51.1,"f":53.5},{"c":"KEN","t":2003,"m":50.4,"f":53.2},{"c":"KEN","t":2006,"m":53.3,"f":56.8},{"c":"KEN","t":2009,"m":56.5,"f":60.5},{"c":"KEN","t":2012,"m":59.5,"f":63.8},{"c":"KEN","t":2015,"m":61.1,"f":65.8},
{"c":"ZAF","t":2000,"m":54.3,"f":59.8},{"c":"ZAF","t":2003,"m":50.9,"f":55.4},{"c":"ZAF","t":2006,"m":49.7,"f":53.3},{"c":"ZAF","t":2009,"m":51.8,"f":55.6},{"c":"ZAF","t":2012,"m":56.1,"f":61.5},{"c":"ZAF","t":2015,"m":59.3,"f":66.2},
{"c":"ZWE","t":2000,"m":46.5,"f":47.8},{"c":"ZWE","t":2003,"m":44.8,"f":43.7},{"c":"ZWE","t":2006,"m":45.5,"f":46.0},{"c":"ZWE","t":2009,"m":49.0,"f":51.0},{"c":"ZWE","t":2012,"m":55.3,"f":58.7},{"c":"ZWE","t":2015,"m":59.0,"f":62.3},
{"c":"MOZ","t":2000,"m":46.3,"f":45.6},{"c":"MOZ","t":2003,"m":47.5,"f":48.0},{"c":"MOZ","t":2006,"m":49.0,"f":50.8},{"c":"MOZ","t":2009,"m":51.0,"f":53.5},{"c":"MOZ","t":2012,"m":53.0,"f":56.0},{"c":"MOZ","t":2015,"m":55.7,"f":59.4},
{"c":"UGA","t":2000,"m":45.5,"f":47.0},{"c":"UGA","t":2003,"m":47.2,"f":48.6},{"c":"UGA","t":2006,"m":50.0,"f":51.5},{"c":"UGA","t":2009,"m":53.8,"f":56.6},{"c":"UGA","t":2012,"m":57.1,"f":60.5},{"c":"UGA","t":2015,"m":60.3,"f":64.3},
{"c":"SLE","t":2000,"m":38.4,"f":39.5},{"c":"SLE","t":2002,"m":39.3,"f":42.2},{"c":"SLE","t":2004,"m":40.8,"f":43.9},{"c":"SLE","t":2006,"m":42.3,"f":44.9},{"c":"SLE","t":2009,"m":44.7,"f":46.4},{"c":"SLE","t":2012,"m":47.3,"f":48.6},{"c":"SLE","t":2015,"m":49.3,"f":50.8},
{"c":"CAF","t":2000,"m":42.1,"f":45.5},{"c":"CAF","t":2003,"m":43.0,"f":46.2},{"c":"CAF","t":2006,"m":44.5,"f":47.3},{"c":"CAF","t":2009,"m":46.5,"f":49.0},{"c":"CAF","t":2012,"m":48.6,"f":51.2},{"c":"CAF","t":2015,"m":50.9,"f":54.1},
{"c":"LSO","t":2000,"m":47.5,"f":53.0},{"c":"LSO","t":2003,"m":44.5,"f":49.0},{"c":"LSO","t":2006,"m":43.8,"f":47.6},{"c":"LSO","t":2009,"m":45.5,"f":49.5},{"c":"LSO","t":2012,"m":48.5,"f":53.0},{"c":"LSO","t":2015,"m":51.7,"f":55.4},
{"c":"SWZ","t":2000,"m":47.0,"f":51.0},{"c":"SWZ","t":2003,"m":44.5,"f":47.5},{"c":"SWZ","t":2006,"m":44.2,"f":47.8},{"c":"SWZ","t":2009,"m":47.0,"f":51.0},{"c":"SWZ","t":2012,"m":52.5,"f":56.9},{"c":"SWZ","t":2015,"m":56.6,"f":61.1},
{"c":"MWI","t":2000,"m":42.6,"f":43.6},{"c":"MWI","t":2003,"m":44.8,"f":46.5},{"c":"MWI","t":2006,"m":47.5,"f":50.0},{"c":"MWI","t":2009,"m":51.0,"f":54.1},{"c":"MWI","t":2012,"m":54.6,"f":58.4},{"c":"MWI","t":2015,"m":56.7,"f":61.4},
{"c":"ZMB","t":2000,"m":44.0,"f":44.7},{"c":"ZMB","t":2003,"m":45.4,"f":46.8},{"c":"ZMB","t":2006,"m":48.0,"f":50.7},{"c":"ZMB","t":2009,"m":52.0,"f":55.6},{"c":"ZMB","t":2012,"m":56.0,"f":59.8},{"c":"ZMB","t":2015,"m":59.0,"f":63.5},
{"c":"BWA","t":2000,"m":49.0,"f":52.5},{"c":"BWA","t":2003,"m":46.6,"f":49.5},{"c":"BWA","t":2006,"m":50.5,"f":54.0},{"c":"BWA","t":2009,"m":56.0,"f":61.0},{"c":"BWA","t":2012,"m":60.8,"f":65.8},{"c":"BWA","t":2015,"m":63.3,"f":68.1},
{"c":"AGO","t":2000,"m":45.4,"f":48.9},{"c":"AGO","t":2003,"m":47.0,"f":50.5},{"c":"AGO","t":2006,"m":48.5,"f":52.3},{"c":"AGO","t":2009,"m":50.0,"f":54.0},{"c":"AGO","t":2012,"m":51.5,"f":55.6},{"c":"AGO","t":2015,"m":50.9,"f":54.0},
{"c":"TCD","t":2000,"m":46.0,"f":48.5},{"c":"TCD","t":2003,"m":47.0,"f":49.4},{"c":"TCD","t":2006,"m":47.8,"f":50.1},{"c":"TCD","t":2009,"m":48.6,"f":50.9},{"c":"TCD","t":2012,"m":49.9,"f":52.1},{"c":"TCD","t":2015,"m":51.7,"f":54.5},
{"c":"CIV","t":2000,"m":47.1,"f":49.0},{"c":"CIV","t":2003,"m":47.5,"f":49.2},{"c":"CIV","t":2006,"m":48.3,"f":50.0},{"c":"CIV","t":2009,"m":49.6,"f":51.5},{"c":"CIV","t":2012,"m":51.0,"f":53.3},{"c":"CIV","t":2015,"m":52.3,"f":54.4},
{"c":"COD","t":2000,"m":48.0,"f":51.3},{"c":"COD","t":2003,"m":49.0,"f":52.6},{"c":"COD","t":2006,"m":51.0,"f":54.2},{"c":"COD","t":2009,"m":53.0,"f":56.0},{"c":"COD","t":2012,"m":55.0,"f":58.2},{"c":"COD","t":2015,"m":58.3,"f":61.5},
{"c":"CMR","t":2000,"m":48.6,"f":50.9},{"c":"CMR","t":2003,"m":49.0,"f":51.1},{"c":"CMR","t":2006,"m":50.0,"f":52.2},{"c":"CMR","t":2009,"m":51.5,"f":54.1},{"c":"CMR","t":2012,"m":53.5,"f":56.0},{"c":"CMR","t":2015,"m":55.9,"f":58.6},
{"c":"MLI","t":2000,"m":48.2,"f":48.6},{"c":"MLI","t":2003,"m":50.5,"f":50.9},{"c":"MLI","t":2006,"m":52.5,"f":53.1},{"c":"MLI","t":2009,"m":54.5,"f":55.0},{"c":"MLI","t":2012,"m":56.3,"f":56.7},{"c":"MLI","t":2015,"m":58.2,"f":58.3},
{"c":"BFA","t":2000,"m":49.5,"f":50.5},{"c":"BFA","t":2003,"m":51.0,"f":52.0},{"c":"BFA","t":2006,"m":53.0,"f":54.0},{"c":"BFA","t":2009,"m":55.5,"f":56.9},{"c":"BFA","t":2012,"m":57.8,"f":59.2},{"c":"BFA","t":2015,"m":59.1,"f":60.5},
{"c":"NER","t":2000,"m":48.0,"f":48.5},{"c":"NER","t":2003,"m":51.0,"f":51.9},{"c":"NER","t":2006,"m":54.0,"f":55.1},{"c":"NER","t":2009,"m":56.8,"f":58.2},{"c":"NER","t":2012,"m":59.0,"f":60.5},{"c":"NER","t":2015,"m":60.9,"f":62.3},
{"c":"GIN","t":2000,"m":48.7,"f":49.6},{"c":"GIN","t":2003,"m":50.2,"f":51.1},{"c":"GIN","t":2006,"m":52.0,"f":53.0},{"c":"GIN","t":2009,"m":54.0,"f":55.1},{"c":"GIN","t":2012,"m":56.6,"f":57.8},{"c":"GIN","t":2015,"m":58.2,"f":59.8},
{"c":"LBR","t":2000,"m":48.5,"f":51.0},{"c":"LBR","t":2003,"m":49.0,"f":51.5},{"c":"LBR","t":2006,"m":53.5,"f":55.8},{"c":"LBR","t":2009,"m":57.0,"f":59.0},{"c":"LBR","t":2012,"m":60.0,"f":62.3},{"c":"LBR","t":2015,"m":59.8,"f":62.0},
{"c":"GNB","t":2000,"m":47.7,"f":50.6},{"c":"GNB","t":2003,"m":49.2,"f":52.4},{"c":"GNB","t":2006,"m":50.6,"f":53.8},{"c":"GNB","t":2009,"m":52.4,"f":55.6},{"c":"GNB","t":2012,"m":54.6,"f":57.8},{"c":"GNB","t":2015,"m":57.2,"f":60.5},
{"c":"SOM","t":2000,"m":49.0,"f":52.1},{"c":"SOM","t":2003,"m":50.0,"f":53.0},{"c":"SOM","t":2006,"m":51.0,"f":54.0},{"c":"SOM","t":2009,"m":52.0,"f":55.1},{"c":"SOM","t":2012,"m":53.5,"f":56.5},{"c":"SOM","t":2015,"m":53.5,"f":56.6},
{"c":"SSD","t":2000,"m":48.5,"f":50.7},{"c":"SSD","t":2003,"m":50.5,"f":52.5},{"c":"SSD","t":2006,"m":52.5,"f":54.6},{"c":"SSD","t":2009,"m":54.5,"f":56.8},{"c":"SSD","t":2012,"m":56.0,"f":58.8},{"c":"SSD","t":2015,"m":56.1,"f":58.6},
{"c":"BDI","t":2000,"m":46.0,"f":49.5},{"c":"BDI","t":2003,"m":48.0,"f":51.4},{"c":"BDI","t":2006,"m":50.5,"f":54.0},{"c":"BDI","t":2009,"m":53.0,"f":57.0},{"c":"BDI","t":2012,"m":55.5,"f":59.5},{"c":"BDI","t":2015,"m":57.7,"f":61.6},
{"c":"RWA","t":2000,"m":46.2,"f":50.0},{"c":"RWA","t":2003,"m":50.0,"f":54.5},{"c":"RWA","t":2006,"m":54.0,"f":58.5},{"c":"RWA","t":2009,"m":58.0,"f":63.0},{"c":"RWA","t":2012,"m":61.5,"f":66.5},{"c":"RWA","t":2015,"m":64.1,"f":69.1},
{"c":"TZA","t":2000,"m":49.5,"f":52.5},{"c":"TZA","t":2003,"m":51.5,"f":54.3},{"c":"TZA","t":2006,"m":54.0,"f":57.0},{"c":"TZA","t":2009,"m":56.6,"f":59.8},{"c":"TZA","t":2012,"m":59.5,"f":62.6},{"c":"TZA","t":2015,"m":61.8,"f":65.0},
{"c":"GHA","t":2000,"m":55.5,"f":57.0},{"c":"GHA","t":2003,"m":56.5,"f":58.5},{"c":"GHA","t":2006,"m":57.8,"f":59.8},{"c":"GHA","t":2009,"m":59.2,"f":61.3},{"c":"GHA","t":2012,"m":60.5,"f":62.7},{"c":"GHA","t":2015,"m":61.0,"f":63.9},
{"c":"SEN","t":2000,"m":55.0,"f":58.0},{"c":"SEN","t":2003,"m":56.8,"f":59.8},{"c":"SEN","t":2006,"m":59.0,"f":62.0},{"c":"SEN","t":2009,"m":61.0,"f":64.0},{"c":"SEN","t":2012,"m":63.0,"f":66.0},{"c":"SEN","t":2015,"m":64.6,"f":68.6},
{"c":"MDG","t":2000,"m":55.5,"f":57.7},{"c":"MDG","t":2003,"m":57.0,"f":59.5},{"c":"MDG","t":2006,"m":59.0,"f":61.5},{"c":"MDG","t":2009,"m":60.5,"f":63.3},{"c":"MDG","t":2012,"m":62.0,"f":64.9},{"c":"MDG","t":2015,"m":63.9,"f":67.0},
{"c":"SDN","t":2000,"m":57.5,"f":61.0},{"c":"SDN","t":2003,"m":58.8,"f":62.3},{"c":"SDN","t":2006,"m":60.0,"f":63.5},{"c":"SDN","t":2009,"m":61.4,"f":64.8},{"c":"SDN","t":2012,"m":62.3,"f":65.9},{"c":"SDN","t":2015,"m":62.4,"f":65.9},
{"c":"BEN","t":2000,"m":53.0,"f":55.3},{"c":"BEN","t":2003,"m":54.2,"f":56.8},{"c":"BEN","t":2006,"m":55.7,"f":58.3},{"c":"BEN","t":2009,"m":57.0,"f":59.8},{"c":"BEN","t":2012,"m":58.5,"f":61.3},{"c":"BEN","t":2015,"m":59.7,"f":62.1},
{"c":"TGO","t":2000,"m":51.5,"f":54.0},{"c":"TGO","t":2003,"m":52.5,"f":55.0},{"c":"TGO","t":2006,"m":54.0,"f":56.3},{"c":"TGO","t":2009,"m":55.5,"f":57.6},{"c":"TGO","t":2012,"m":57.1,"f":59.3},{"c":"TGO","t":2015,"m":58.6,"f":61.1},
{"c":"GMB","t":2000,"m":55.0,"f":57.7},{"c":"GMB","t":2003,"m":56.3,"f":59.1},{"c":"GMB","t":2006,"m":57.8,"f":60.6},{"c":"GMB","t":2009,"m":59.0,"f":62.1},{"c":"GMB","t":2012,"m":59.9,"f":63.0},{"c":"GMB","t":2015,"m":59.8,"f":62.5},
{"c":"COG","t":2000,"m":50.6,"f":52.7},{"c":"COG","t":2003,"m":52.0,"f":54.3},{"c":"COG","t":2006,"m":54.0,"f":56.9},{"c":"COG","t":2009,"m":57.0,"f":60.0},{"c":"COG","t":2012,"m":60.0,"f":63.0},{"c":"COG","t":2015,"m":63.2,"f":66.3},
{"c":"GAB","t":2000,"m":56.9,"f":61.0},{"c":"GAB","t":2003,"m":57.4,"f":61.8},{"c":"GAB","t":2006,"m":59.1,"f":63.1},{"c":"GAB","t":2009,"m":60.5,"f":64.2},{"c":"GAB","t":2012,"m":62.5,"f":65.8},{"c":"GAB","t":2015,"m":64.7,"f":67.2},
{"c":"GNQ","t":2000,"m":50.5,"f":53.0},{"c":"GNQ","t":2003,"m":51.5,"f":54.2},{"c":"GNQ","t":2006,"m":53.0,"f":55.8},{"c":"GNQ","t":2009,"m":54.5,"f":57.5},{"c":"GNQ","t":2012,"m":56.0,"f":59.0},{"c":"GNQ","t":2015,"m":57.0,"f":60.4},
{"c":"ERI","t":2000,"m":51.0,"f":56.0},{"c":"ERI","t":2003,"m":54.0,"f":59.5},{"c":"ERI","t":2006,"m":56.5,"f":62.0},{"c":"ERI","t":2009,"m":58.5,"f":63.8},{"c":"ERI","t":2012,"m":60.3,"f":65.0},{"c":"ERI","t":2015,"m":62.4,"f":67.0},
{"c":"DJI","t":2000,"m":55.0,"f":58.0},{"c":"DJI","t":2003,"m":56.5,"f":59.7},{"c":"DJI","t":2006,"m":58.2,"f":61.2},{"c":"DJI","t":2009,"m":59.5,"f":62.6},{"c":"DJI","t":2012,"m":60.8,"f":63.9},{"c":"DJI","t":2015,"m":61.8,"f":65.3},
{"c":"COM","t":2000,"m":57.5,"f":60.5},{"c":"COM","t":2003,"m":58.5,"f":61.7},{"c":"COM","t":2006,"m":59.5,"f":62.8},{"c":"COM","t":2009,"m":60.5,"f":64.0},{"c":"COM","t":2012,"m":61.3,"f":64.8},{"c":"COM","t":2015,"m":61.9,"f":65.2},
{"c":"NAM","t":2000,"m":54.5,"f":59.5},{"c":"NAM","t":2003,"m":52.0,"f":57.5},{"c":"NAM","t":2006,"m":54.5,"f":60.0},{"c":"NAM","t":2009,"m":58.0,"f":63.5},{"c":"NAM","t":2012,"m":60.5,"f":66.5},{"c":"NAM","t":2015,"m":63.1,"f":68.3},
{"c":"MRT","t":2000,"m":58.2,"f":61.3},{"c":"MRT","t":2003,"m":59.2,"f":62.4},{"c":"MRT","t":2006,"m":60.2,"f":63.5},{"c":"MRT","t":2009,"m":61.1,"f":64.3},{"c":"MRT","t":2012,"m":61.8,"f":64.8},{"c":"MRT","t":2015,"m":61.6,"f":64.6},
{"c":"STP","t":2000,"m":60.0,"f":63.5},{"c":"STP","t":2003,"m":61.0,"f":64.7},{"c":"STP","t":2006,"m":62.0,"f":65.8},{"c":"STP","t":2009,"m":63.5,"f":67.2},{"c":"STP","t":2012,"m":64.5,"f":68.5},{"c":"STP","t":2015,"m":65.5,"f":69.4},
{"c":"X1","t":2000,"m":43.4,"f":53.8},{"c":"X1","t":2001,"m":43.4,"f":54.3},{"c":"X1","t":2003,"m":46.0,"f":56.8},{"c":"X1","t":2005,"m":49.9,"f":60.2},{"c":"X1","t":2007,"m":53.8,"f":64.8},{"c":"X1","t":2009,"m":55.3,"f":66.2},{"c":"X1","t":2010,"m":55.3,"f":66.7},{"c":"X1","t":2012,"m":57.5,"f":68.1},{"c":"X1","t":2014,"m":59.8,"f":69.9},{"c":"X1","t":2015,"m":61.0,"f":71.2},
{"c":"X2","t":2000,"m":39.5,"f":52.8},{"c":"X2","t":2001,"m":53.3,"f":58.5},{"c":"X2","t":2004,"m":54.5,"f":59.6},{"c":"X2","t":2008,"m":56.2,"f":61.2},{"c":"X2","t":2012,"m":58.0,"f":62.8},{"c":"X2","t":2015,"m":59.3,"f":63.6},
{"c":"X3","t":2000,"m":59.6,"f":59.9},{"c":"X3","t":2002,"m":59.2,"f":60.3},{"c":"X3","t":2005,"m":61.0,"f":62.5},{"c":"X3","t":2008,"m":62.8,"f":64.6},{"c":"X3","t":2011,"m":65.0,"f":67.3},{"c":"X3","t":2013,"m":67.5,"f":70.0},{"c":"X3","t":2015,"m":69.9,"f":72.3},
{"c":"BLZ","t":2000,"m":66.5,"f":72.0},{"c":"BLZ","t":2003,"m":67.5,"f":73.5},{"c":"BLZ","t":2005,"m":66.8,"f":72.6},{"c":"BLZ","t":2008,"m":68.0,"f":74.2},{"c":"BLZ","t":2011,"m":67.5,"f":73.4},{"c":"BLZ","t":2013,"m":68.5,"f":74.6},{"c":"BLZ","t":2015,"m":68.8,"f":75.0},
{"c":"TTO","t":2000,"m":66.0,"f":72.5},{"c":"TTO","t":2003,"m":66.5,"f":73.4},{"c":"TTO","t":2005,"m":66.0,"f":72.8},{"c":"TTO","t":2008,"m":67.3,"f":74.0},{"c":"TTO","t":2011,"m":68.0,"f":75.0},{"c":"TTO","t":2013,"m":67.6,"f":74.7},{"c":"TTO","t":2015,"m":68.3,"f":75.7},
{"c":"SUR","t":2000,"m":65.5,"f":71.8},{"c":"SUR","t":2003,"m":66.0,"f":72.3},{"c":"SUR","t":2006,"m":67.2,"f":73.6},{"c":"SUR","t":2009,"m":66.6,"f":73.2},{"c":"SUR","t":2012,"m":68.0,"f":74.4},{"c":"SUR","t":2015,"m":68.5,"f":74.8},
{"c":"RUS","t":2001,"m":58.7,"f":72.2},{"c":"RUS","t":2002,"m":58.4,"f":71.7},{"c":"RUS","t":2004,"m":58.9,"f":72.0},{"c":"RUS","t":2005,"m":58.5,"f":71.9},{"c":"RUS","t":2007,"m":61.4,"f":73.9},{"c":"RUS","t":2008,"m":61.8,"f":74.2},{"c":"RUS","t":2010,"m":63.1,"f":74.9},{"c":"RUS","t":2011,"m":63.9,"f":75.6},{"c":"RUS","t":2013,"m":64.5,"f":76.0},{"c":"RUS","t":2014,"m":64.6,"f":76.4},
{"c":"UKR","t":2001,"m":62.7,"f":73.8},{"c":"UKR","t":2002,"m":62.3,"f":73.6},{"c":"UKR","t":2004,"m":62.4,"f":73.5},{"c":"UKR","t":2005,"m":61.9,"f":73.2},{"c":"UKR","t":2007,"m":62.2,"f":73.3},{"c":"UKR","t":2008,"m":62.8,"f":73.9},{"c":"UKR","t":2010,"m":64.5,"f":75.2},{"c":"UKR","t":2011,"m":65.2,"f":75.6},{"c":"UKR","t":2013,"m":65.8,"f":76.0},{"c":"UKR","t":2014,"m":66.0,"f":75.7},
{"c":"KAZ","t":2001,"m":60.4,"f":71.3},{"c":"KAZ","t":2002,"m":60.0,"f":70.8},{"c":"KAZ","t":2004,"m":59.7,"f":70.6},{"c":"KAZ","t":2005,"m":59.5,"f":70.9},{"c":"KAZ","t":2007,"m":60.8,"f":71.3},{"c":"KAZ","t":2008,"m":62.0,"f":72.2},{"c":"KAZ","t":2010,"m":63.6,"f":72.8},{"c":"KAZ","t":2011,"m":64.0,"f":73.4},{"c":"KAZ","t":2013,"m":64.9,"f":74.2},{"c":"KAZ","t":2014,"m":65.3,"f":74.4},
{"c":"BLR","t":2001,"m":63.0,"f":74.8},{"c":"BLR","t":2002,"m":62.3,"f":74.2},{"c":"BLR","t":2004,"m":62.8,"f":74.7},{"c":"BLR","t":2005,"m":62.6,"f":74.6},{"c":"BLR","t":2007,"m":64.3,"f":75.8},{"c":"BLR","t":2008,"m":64.6,"f":76.0},{"c":"BLR","t":2010,"m":64.5,"f":76.4},{"c":"BLR","t":2011,"m":64.9,"f":76.7},{"c":"BLR","t":2013,"m":67.0,"f":77.8},{"c":"BLR","t":2014,"m":66.8,"f":78.2},
{"c":"MDA","t":2001,"m":63.9,"f":71.3},{"c":"MDA","t":2002,"m":63.4,"f":71.1},{"c":"MDA","t":2004,"m":63.9,"f":71.6},{"c":"MDA","t":2005,"m":63.2,"f":71.0},{"c":"MDA","t":2007,"m":64.1,"f":71.9},{"c":"MDA","t":2008,"m":64.5,"f":72.4},{"c":"MDA","t":2010,"m":65.6,"f":73.4},{"c":"MDA","t":2011,"m":66.4,"f":74.3},{"c":"MDA","t":2013,"m":67.5,"f":75.4},
{"c":"LVA","t":2001,"m":65.0,"f":76.3},{"c":"LVA","t":2002,"m":65.3,"f":76.2},{"c":"LVA","t":2004,"m":65.8,"f":76.8},{"c":"LVA","t":2005,"m":65.0,"f":76.4},{"c":"LVA","t":2007,"m":65.5,"f":76.5},{"c":"LVA","t":2008,"m":66.6,"f":77.5},{"c":"LVA","t":2010,"m":67.9,"f":78.4},{"c":"LVA","t":2011,"m":68.4,"f":78.6},
{"c":"LTU","t":2001,"m":66.8,"f":77.7},{"c":"LTU","t":2002,"m":66.2,"f":77.5},{"c":"LTU","t":2004,"m":66.3,"f":77.7},{"c":"LTU","t":2005,"m":65.4,"f":77.3},{"c":"LTU","t":2007,"m":64.9,"f":77.0},{"c":"LTU","t":2008,"m":66.1,"f":77.7},{"c":"LTU","t":2010,"m":67.9,"f":78.8},{"c":"LTU","t":2011,"m":68.0,"f":79.2},{"c":"LTU","t":2013,"m":68.4,"f":79.6},{"c":"LTU","t":2014,"m":68.6,"f":79.7},
{"c":"EST","t":2001,"m":64.8,"f":76.4},{"c":"EST","t":2002,"m":65.4,"f":77.0},{"c":"EST","t":2004,"m":66.2,"f":77.3},{"c":"EST","t":2005,"m":66.8,"f":78.1},{"c":"EST","t":2007,"m":67.2,"f":78.6},{"c":"EST","t":2008,"m":68.6,"f":79.2},{"c":"EST","t":2010,"m":70.6,"f":80.5},{"c":"EST","t":2011,"m":71.2,"f":81.1},{"c":"EST","t":2013,"m":72.2,"f":81.4},{"c":"EST","t":2014,"m":72.8,"f":81.9},
{"c":"KGZ","t":2001,"m":63.4,"f":71.1},{"c":"KGZ","t":2002,"m":63.0,"f":70.8},{"c":"KGZ","t":2004,"m":63.4,"f":71.4},{"c":"KGZ","t":2005,"m":62.8,"f":71.3},{"c":"KGZ","t":2007,"m":63.9,"f":72.0},{"c":"KGZ","t":2008,"m":63.5,"f":72.5},{"c":"KGZ","t":2010,"m":64.4,"f":72.8},{"c":"KGZ","t":2011,"m":65.4,"f":73.6}
]},
"layer":[
{"data":{"name":"le"},
 "transform":[{"window":[{"op":"lead","field":"m","as":"m2"},{"op":"lead","field":"f","as":"f2"}],"groupby":["c"],"sort":[{"field":"t","order":"ascending"}]},{"filter":"datum.m2 != null"}],
 "mark":{"type":"rule","strokeWidth":1.5,"strokeCap":"round"},
 "encoding":{
  "x":{"field":"m","type":"quantitative","scale":{"domain":[30.756,83.663],"nice":false,"zero":false},
       "axis":{"values":[35,40,45,50,55,60,65,70,75,80],"labelExpr":"datum.value % 10 === 0 ? datum.label : ''","grid":true,"gridDash":[1,3],"gridColor":"#222","gridWidth":1,"ticks":false,"domain":false,"labelFont":"DejaVu Sans Mono","labelFontSize":15,"labelColor":"#555","labelPadding":10,"title":"MALE","titleFont":"DejaVu Sans Mono","titleFontSize":15,"titleFontWeight":"normal","titleColor":"#000","titleX":20,"titleY":24,"titleAlign":"left","titleBaseline":"alphabetic"}},
  "y":{"field":"f","type":"quantitative","scale":{"domain":[37.088,87.19],"nice":false,"zero":false},
       "axis":{"values":[40,45,50,55,60,65,70,75,80,85],"labelExpr":"datum.value % 10 === 0 ? datum.label : ''","grid":true,"gridDash":[1,3],"gridColor":"#222","gridWidth":1,"ticks":false,"domain":false,"labelFont":"DejaVu Sans Mono","labelFontSize":15,"labelColor":"#555","labelPadding":6,"title":"FEMALE","titleFont":"DejaVu Sans Mono","titleFontSize":15,"titleFontWeight":"normal","titleColor":"#000","titleAngle":270,"titleX":-10,"titleY":0,"titleAlign":"right","titleBaseline":"alphabetic"}},
  "x2":{"field":"m2"},"y2":{"field":"f2"},
  "color":{"field":"t","type":"quantitative","scale":{"domain":[2000,2015],"range":["#e4e4e4","#3a3a3a"]},"legend":null},
  "order":{"field":"t","type":"quantitative"}
 }},
{"data":{"name":"key"},
 "transform":[{"window":[{"op":"lead","field":"m","as":"m2"},{"op":"lead","field":"f","as":"f2"}],"groupby":["c"],"sort":[{"field":"t","order":"ascending"}]},{"filter":"datum.m2 != null"}],
 "mark":{"type":"rule","strokeWidth":1.5,"strokeCap":"round"},
 "encoding":{
  "x":{"field":"m","type":"quantitative"},
  "y":{"field":"f","type":"quantitative"},
  "x2":{"field":"m2"},"y2":{"field":"f2"},
  "color":{"field":"t","type":"quantitative"}
 }}
]
}
